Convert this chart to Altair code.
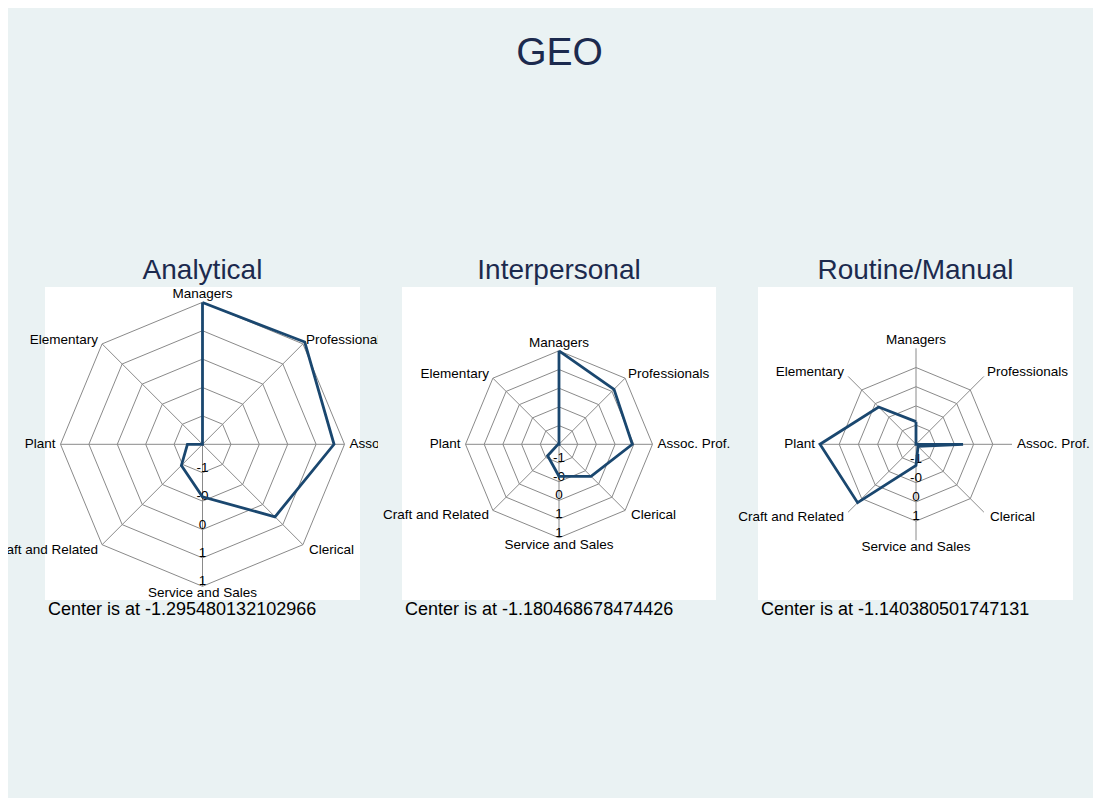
import altair as alt
import numpy as np
import pandas as pd

# ---------------- data ----------------
categories = ["Managers", "Professionals", "Assoc. Prof.", "Clerical",
              "Service and Sales", "Craft and Related", "Plant", "Elementary"]
panels = ["Analytical", "Interpersonal", "Routine/Manual"]
centers = [-1.295480132102966, -1.180468678474426, -1.140380501747131]
analytical = [1.20, 1.25, 1.02, 0.51, -0.37, -0.77, -1.03, -1.295480132102966]
interpersonal = [1.32, 0.90, 0.78, 0.03, -0.325, -0.75, -1.155, -1.180468678474426]
routine = [-0.55, -1.140380501747131, 0.085, -1.065, -0.59, 1.01, 1.36, 0.235]
series = [analytical, interpersonal, routine]
ring_step = 0.5
axis_span = 2.5
ring_labels = [["-1", "-0", "0", "1", "1"],
               ["-1", "-0", "0", "1", "1"],
               ["-1", "-0", "0", "1"]]
main_title = "GEO"

# ---------------- style / layout ----------------
FONT = "Liberation Sans"
LINE_C = "#1A476F"
TITLE_C = "#1C2A4E"
GRID_C = "#8A8A8A"
BG = "#EAF2F3"

W = [370, 359, 356]
H = 790
CX = [194.5, 181, 179]
CY = 436.3
PPU = [142 / 2.5, 93.5 / 2.5, 96 / 2.5]
BOX_X = [(37, 352), (24, 338), (21, 336)]
BOX_Y = (279, 592)

label_pos = [  # align, baseline, dx, dy for each axis label (clockwise from top)
    ("center", "bottom", 0, -1),
    ("left", "alphabetic", 3, 0),
    ("left", "middle", 5, 0),
    ("left", "top", 6, -2),
    ("center", "top", 0, 0),
    ("right", "top", -4, -2),
    ("right", "middle", -5, 0),
    ("right", "alphabetic", -4, 0),
]

angles = np.deg2rad(np.arange(8) * 45.0)


def panel(i):
    c = centers[i]
    vals = series[i]
    ppu = PPU[i]
    xs = alt.Scale(domain=[-CX[i] / ppu, (W[i] - CX[i]) / ppu], nice=False, zero=False)
    ys = alt.Scale(domain=[-(H - CY) / ppu, CY / ppu], nice=False, zero=False)

    def X(f):
        return alt.X(f, type="quantitative", scale=xs, axis=None)

    def Y(f):
        return alt.Y(f, type="quantitative", scale=ys, axis=None)

    layers = []
    # white plot region
    box = pd.DataFrame({"panel": [panels[i]]})
    layers.append(alt.Chart(box).mark_rect(color="white").encode(
        x=alt.value(BOX_X[i][0]), x2=alt.value(BOX_X[i][1]),
        y=alt.value(BOX_Y[0]), y2=alt.value(BOX_Y[1])))

    # rings
    rows = []
    for k in range(1, len(ring_labels[i]) + 1):
        r = k * ring_step
        for j in range(9):
            a = angles[j % 8]
            rows.append({"ring": k, "o": j, "x": r * np.sin(a), "y": r * np.cos(a)})
    rings = pd.DataFrame(rows)
    layers.append(alt.Chart(rings).mark_line(color=GRID_C, strokeWidth=1).encode(
        x=X("x"), y=Y("y"), detail="ring:N", order="o:Q"))

    # spokes
    spokes = pd.DataFrame({"cat": categories, "x0": 0.0, "y0": 0.0,
                           "x": axis_span * np.sin(angles), "y": axis_span * np.cos(angles)})
    layers.append(alt.Chart(spokes).mark_rule(color=GRID_C, strokeWidth=1).encode(
        x=X("x0"), y=Y("y0"), x2="x", y2="y"))

    # ring labels along the bottom axis
    rl = pd.DataFrame({"lab": ring_labels[i],
                       "x": 0.0,
                       "y": [-(k + 1) * ring_step for k in range(len(ring_labels[i]))]})
    layers.append(alt.Chart(rl).mark_text(font=FONT, fontSize=13.5, color="black",
                                          align="center", baseline="alphabetic", dy=-1).encode(
        x=X("x"), y=Y("y"), text="lab:N"))

    # data polygon
    r = [v - c for v in vals]
    poly = pd.DataFrame({"o": list(range(9)),
                         "cat": categories + [categories[0]],
                         "x": [r[j % 8] * np.sin(angles[j % 8]) for j in range(9)],
                         "y": [r[j % 8] * np.cos(angles[j % 8]) for j in range(9)]})
    layers.append(alt.Chart(poly).mark_line(color=LINE_C, strokeWidth=2.8,
                                            strokeJoin="miter").encode(
        x=X("x"), y=Y("y"), order="o:Q"))

    # axis labels
    for j, cat in enumerate(categories):
        al, bl, dx, dy = label_pos[j]
        d = pd.DataFrame({"cat": [cat],
                          "x": [axis_span * np.sin(angles[j])],
                          "y": [axis_span * np.cos(angles[j])]})
        layers.append(alt.Chart(d).mark_text(font=FONT, fontSize=13.5, color="black",
                                             align=al, baseline=bl, dx=dx, dy=dy,
                                             clip=True).encode(
            x=X("x"), y=Y("y"), text="cat:N"))

    # panel title
    t = pd.DataFrame({"t": [panels[i]]})
    layers.append(alt.Chart(t).mark_text(font=FONT, fontSize=28, color=TITLE_C,
                                         align="center", baseline="alphabetic").encode(
        x=alt.value((BOX_X[i][0] + BOX_X[i][1]) / 2), y=alt.value(270.5), text="t:N"))

    # center note
    note = pd.DataFrame({"t": ["Center is at " + repr(c)]})
    layers.append(alt.Chart(note).mark_text(font=FONT, fontSize=18, color="black",
                                            align="left", baseline="alphabetic").encode(
        x=alt.value(BOX_X[i][0] + 3), y=alt.value(607), text="t:N"))

    if i == 1:
        g = pd.DataFrame({"t": [main_title]})
        layers.append(alt.Chart(g).mark_text(font=FONT, fontSize=39, color=TITLE_C,
                                             align="center", baseline="alphabetic").encode(
            x=alt.value(181.5), y=alt.value(57), text="t:N"))

    return alt.layer(*layers).properties(width=W[i], height=H)


chart = alt.hconcat(*[panel(i) for i in range(3)], spacing=0).properties(
    padding=0, background=BG
).configure_view(strokeWidth=0)

chart.save("out.html", embed_options={"renderer": "svg", "actions": False})
